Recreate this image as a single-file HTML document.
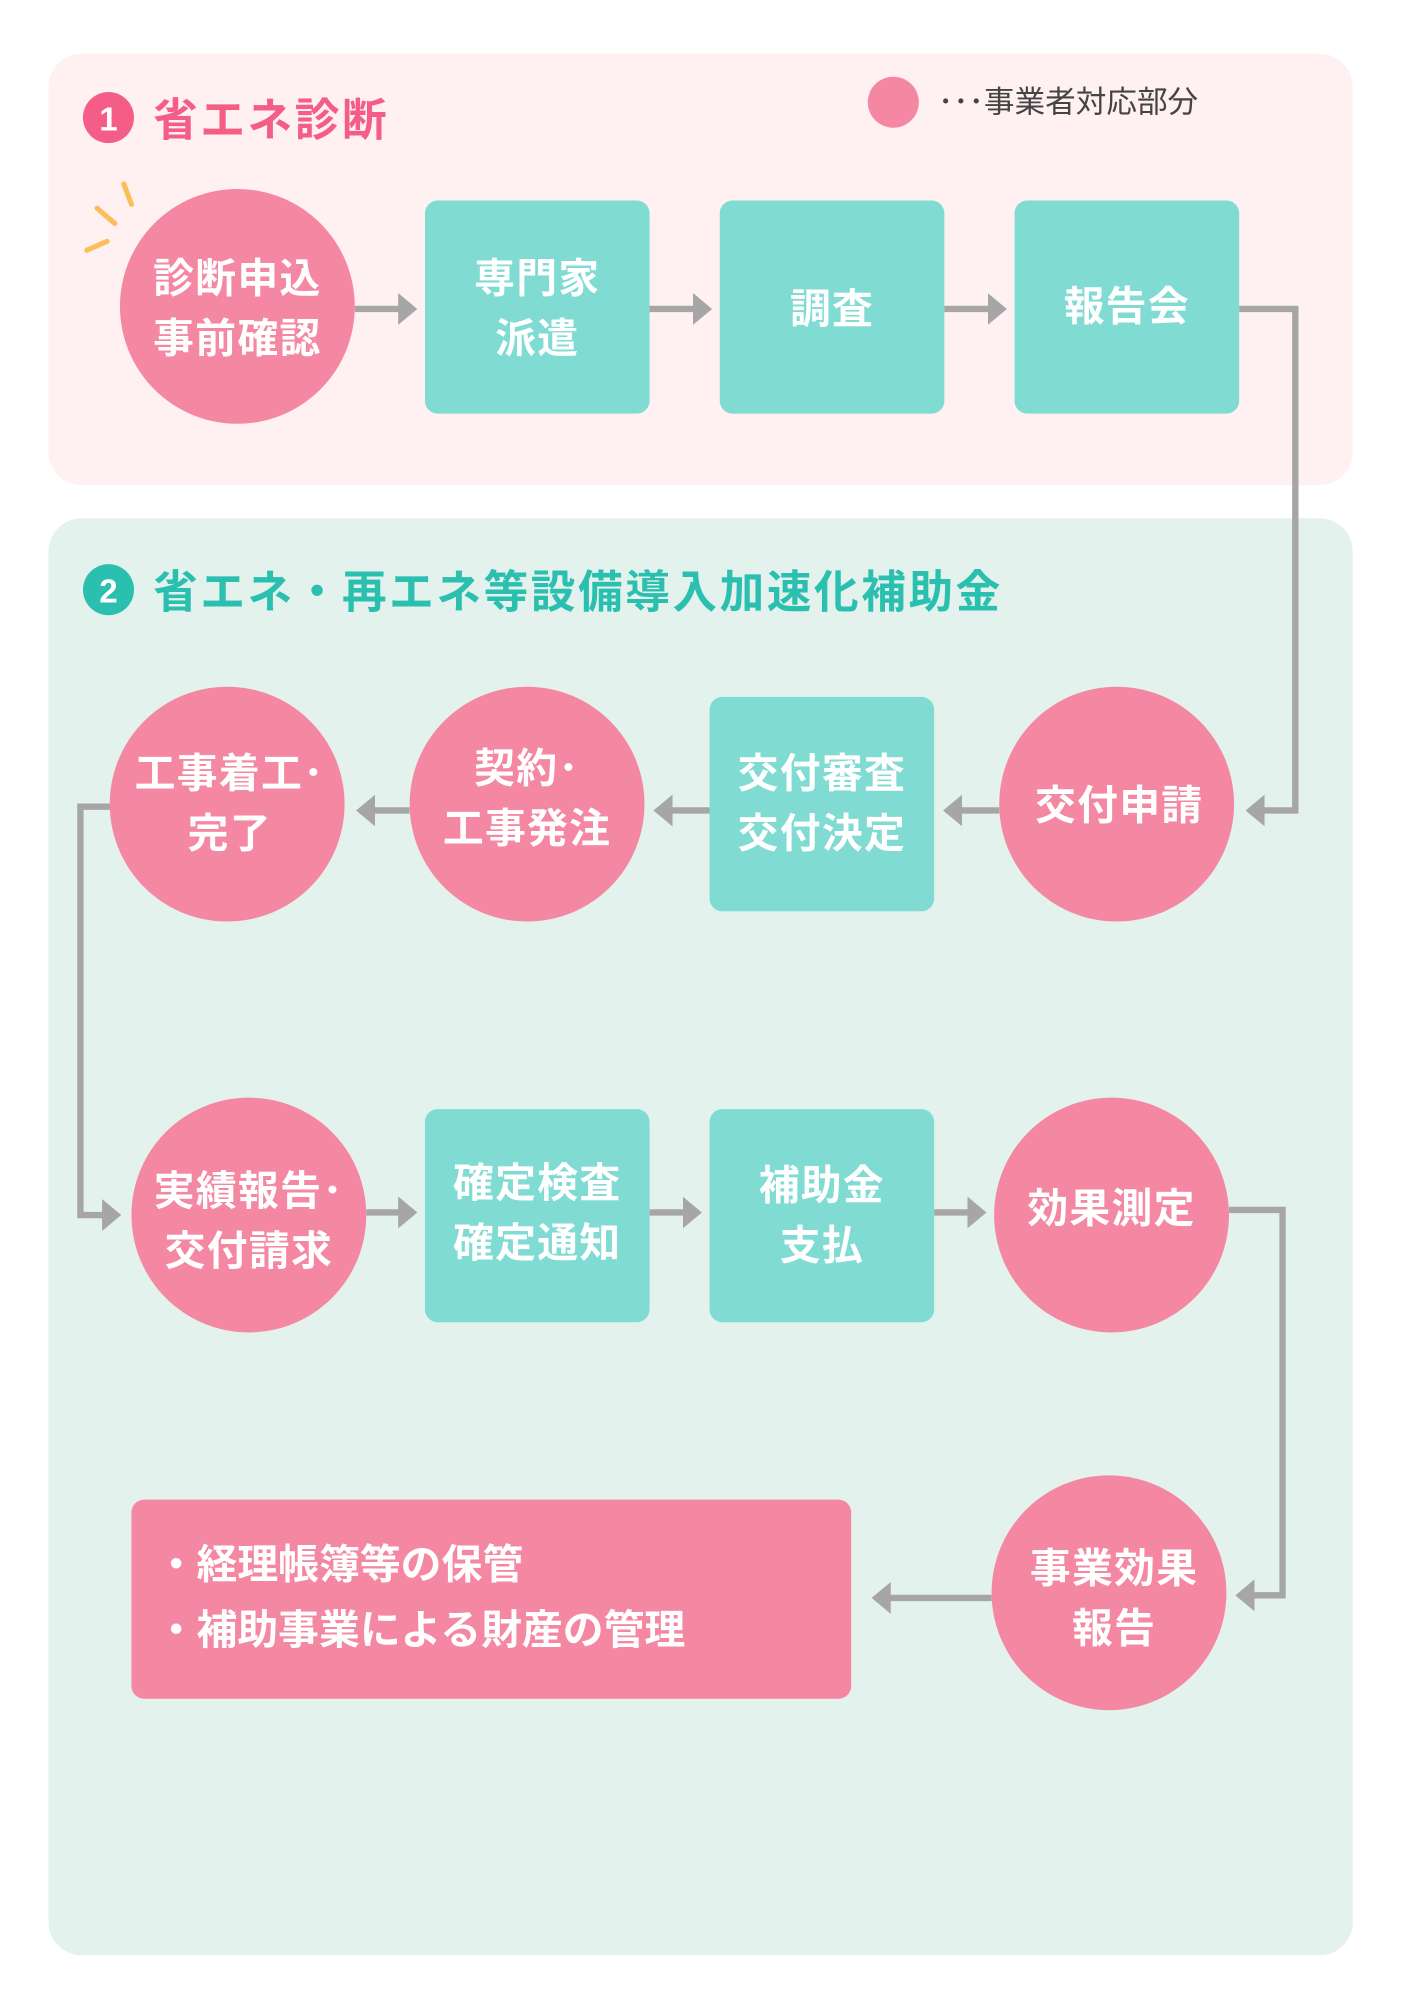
<!DOCTYPE html>
<html><head><meta charset="utf-8"><style>
html,body{margin:0;padding:0;background:#fff;}
svg{display:block;}
text{font-family:"Liberation Sans","Noto Sans CJK JP",sans-serif;font-weight:bold;}
.w{fill:#fff;font-size:32px;text-anchor:middle;letter-spacing:1px;}
</style></head><body>
<svg width="1414" height="2000" viewBox="0 0 1108 1567" xmlns="http://www.w3.org/2000/svg">
<defs>
<marker id="a" markerWidth="4" markerHeight="5" refX="2.4" refY="2.5" orient="auto" markerUnits="strokeWidth"><path d="M0,0 L3,2.5 L0,5 Z" fill="#a6a6a6"/></marker>
</defs>
<rect x="38" y="42" width="1022" height="338" rx="26" fill="#fff0f2"/>
<rect x="38" y="406" width="1022" height="1126" rx="26" fill="#e3f2ec"/>
<!-- titles -->
<circle cx="85" cy="92" r="20" fill="#f45d85"/>
<text x="85" y="102" fill="#fff" font-size="26" text-anchor="middle">1</text>
<text x="120" y="106" fill="#f45d85" font-size="35" letter-spacing="2">省エネ診断</text>
<circle cx="700" cy="80" r="20" fill="#f487a2"/>
<text x="735" y="88" fill="#444" font-size="24" style="font-weight:normal">･･･事業者対応部分</text>
<circle cx="85" cy="462" r="20" fill="#2bbfb0"/>
<text x="85" y="472" fill="#fff" font-size="26" text-anchor="middle">2</text>
<text x="120" y="476" fill="#2bbfb0" font-size="35" letter-spacing="2">省エネ・再エネ等設備導入加速化補助金</text>
<!-- sparks -->
<g stroke="#fbbf5a" stroke-width="4" stroke-linecap="round">
<line x1="97" y1="144" x2="103" y2="160"/><line x1="76" y1="163" x2="90" y2="175"/><line x1="68" y1="196" x2="84" y2="189"/>
</g>
<!-- connectors -->
<g stroke="#a6a6a6" stroke-width="5" fill="none">
<line x1="278" y1="242" x2="324" y2="242" marker-end="url(#a)"/>
<line x1="509" y1="242" x2="555" y2="242" marker-end="url(#a)"/>
<line x1="740" y1="242" x2="786" y2="242" marker-end="url(#a)"/>
<polyline points="971,242 1015,242 1015,635 979,635" marker-end="url(#a)"/>
<line x1="783" y1="635" x2="742" y2="635" marker-end="url(#a)"/>
<line x1="556" y1="635" x2="515" y2="635" marker-end="url(#a)"/>
<line x1="321" y1="635" x2="282" y2="635" marker-end="url(#a)"/>
<polyline points="87,632 63,632 63,952 92,952" marker-end="url(#a)"/>
<line x1="287" y1="950" x2="324" y2="950" marker-end="url(#a)"/>
<line x1="509" y1="950" x2="547" y2="950" marker-end="url(#a)"/>
<line x1="732" y1="950" x2="770" y2="950" marker-end="url(#a)"/>
<polyline points="963,948 1005,948 1005,1250 971,1250" marker-end="url(#a)"/>
<line x1="777" y1="1252" x2="686" y2="1252" marker-end="url(#a)"/>
</g>
<!-- row1 -->
<circle cx="186" cy="240" r="92" fill="#f487a2"/>
<text class="w" x="186" y="229">診断申込</text><text class="w" x="186" y="276">事前確認</text>
<rect x="333" y="157" width="176" height="167" rx="10" fill="#80dbd3"/>
<text class="w" x="421" y="229">専門家</text><text class="w" x="421" y="276">派遣</text>
<rect x="564" y="157" width="176" height="167" rx="10" fill="#80dbd3"/>
<text class="w" x="652" y="253">調査</text>
<rect x="795" y="157" width="176" height="167" rx="10" fill="#80dbd3"/>
<text class="w" x="883" y="251">報告会</text>
<!-- row2 -->
<circle cx="875" cy="630" r="92" fill="#f487a2"/>
<text class="w" x="877" y="642">交付申請</text>
<rect x="556" y="546" width="176" height="168" rx="10" fill="#80dbd3"/>
<text class="w" x="644" y="617">交付審査</text><text class="w" x="644" y="664">交付決定</text>
<circle cx="413" cy="630" r="92" fill="#f487a2"/>
<text class="w" x="413" y="613">契約･</text><text class="w" x="413" y="660">工事発注</text>
<circle cx="178" cy="630" r="92" fill="#f487a2"/>
<text class="w" x="180" y="617">工事着工･</text><text class="w" x="180" y="664">完了</text>
<!-- row3 -->
<circle cx="195" cy="952" r="92" fill="#f487a2"/>
<text class="w" x="195" y="944">実績報告･</text><text class="w" x="195" y="991">交付請求</text>
<rect x="333" y="869" width="176" height="167" rx="10" fill="#80dbd3"/>
<text class="w" x="421" y="938">確定検査</text><text class="w" x="421" y="985">確定通知</text>
<rect x="556" y="869" width="176" height="167" rx="10" fill="#80dbd3"/>
<text class="w" x="644" y="940">補助金</text><text class="w" x="644" y="987">支払</text>
<circle cx="871" cy="952" r="92" fill="#f487a2"/>
<text class="w" x="871" y="958">効果測定</text>
<!-- row4 -->
<circle cx="869" cy="1248" r="92" fill="#f487a2"/>
<text class="w" x="873" y="1240">事業効果</text><text class="w" x="873" y="1287">報告</text>
<rect x="103" y="1175" width="564" height="156" rx="10" fill="#f487a2"/>
<text x="122" y="1237" fill="#fff" font-size="32">・経理帳簿等の保管</text>
<text x="122" y="1288" fill="#fff" font-size="32">・補助事業による財産の管理</text>
</svg>
</body></html>
